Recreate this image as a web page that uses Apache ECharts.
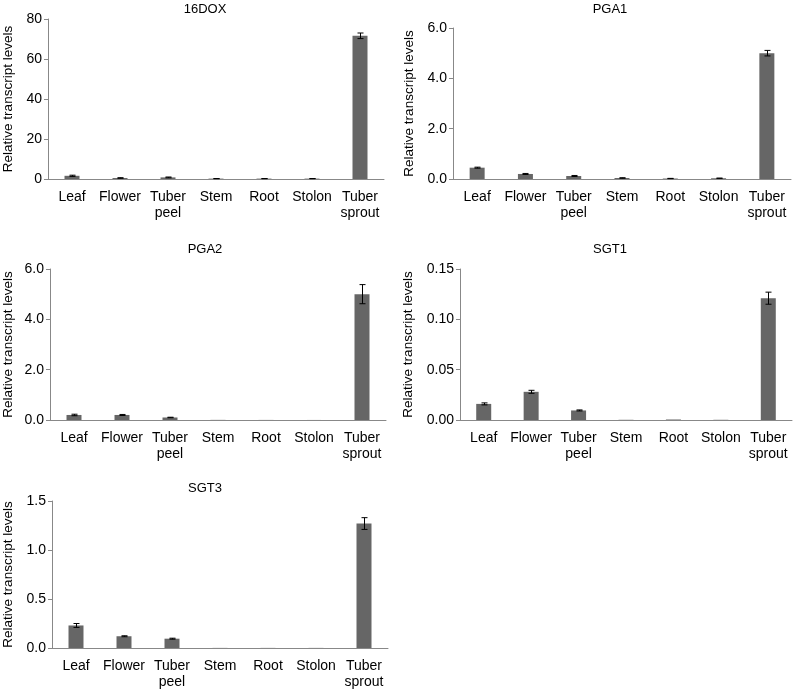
<!DOCTYPE html>
<html><head><meta charset="utf-8">
<script src="https://cdn.jsdelivr.net/npm/echarts@6/dist/echarts.min.js"></script>
<style>html,body{margin:0;padding:0;background:#fff}#c{width:793px;height:690px}</style>
</head><body><div id="c"></div>
<script>
var categories = ['Leaf','Flower','Tuber\npeel','Stem','Root','Stolon','Tuber\nsprout'];
var dox16 = [1.6, 0.5, 0.8, 0.2, 0.2, 0.2, 71.6];
var dox16Err = [0.3, 0.15, 0.2, 0.05, 0.05, 0.05, 1.4];
var pga1 = [0.45, 0.2, 0.12, 0.04, 0.02, 0.03, 5.0];
var pga1Err = [0.02, 0.02, 0.02, 0.01, 0.005, 0.005, 0.11];
var pga2 = [0.2, 0.2, 0.1, 0.005, 0.003, 0.002, 5.0];
var pga2Err = [0.03, 0.02, 0.01, 0, 0, 0, 0.38];
var sgt1 = [0.016, 0.028, 0.0095, 0.0002, 0.0005, 0.0002, 0.121];
var sgt1Err = [0.001, 0.0015, 0.0005, 0, 0, 0, 0.006];
var sgt3 = [0.23, 0.12, 0.095, 0.001, 0.001, 0.001, 1.27];
var sgt3Err = [0.02, 0.005, 0.005, 0, 0, 0, 0.06];
var titles = ['16DOX','PGA1','PGA2','SGT1','SGT3'];
var yMax = [80, 6, 6, 0.15, 1.5];
var yInterval = [20, 2, 2, 0.05, 0.5];
var yDecimals = [0, 1, 1, 2, 1];

var panels = [
  {vals: dox16, err: dox16Err},
  {vals: pga1, err: pga1Err},
  {vals: pga2, err: pga2Err},
  {vals: sgt1, err: sgt1Err},
  {vals: sgt3, err: sgt3Err}
];
var grids = [
  {left: 44, top: 19, width: 340, height: 160},
  {left: 453, top: 28, width: 338, height: 151},
  {left: 49, top: 269, width: 337, height: 151},
  {left: 460, top: 269, width: 332, height: 151},
  {left: 51, top: 501, width: 337, height: 150}
];
var nameGaps = [33, 37, 35, 45, 37];
var titlePos = [[205, 3], [610, 3], [205, 243], [610, 243], [205, 482]];

var FONT = 'Liberation Sans, Arial, sans-serif';
var option = {
  animation: false,
  title: [], grid: [], xAxis: [], yAxis: [], series: []
};
panels.forEach(function (p, i) {
  option.title.push({
    text: titles[i], left: titlePos[i][0], top: titlePos[i][1], textAlign: 'center', padding: 0,
    textStyle: {fontFamily: FONT, fontSize: 13, fontWeight: 'normal', color: '#000'}
  });
  option.grid.push(grids[i]);
  option.xAxis.push({
    type: 'category', gridIndex: i, data: categories,
    axisLine: {lineStyle: {color: '#888', width: 1}},
    axisTick: {show: false},
    axisLabel: {color: '#000', fontFamily: FONT, fontSize: 14, margin: 10, lineHeight: 16, interval: 0}
  });
  option.yAxis.push({
    type: 'value', gridIndex: i, min: 0, max: yMax[i], interval: yInterval[i],
    name: 'Relative transcript levels', nameLocation: 'middle', nameGap: nameGaps[i],
    nameTextStyle: {fontFamily: FONT, fontSize: 13.5, color: '#000'},
    axisLine: {show: true, lineStyle: {color: '#888', width: 1}},
    axisTick: {show: true, inside: false, length: 4, lineStyle: {color: '#888'}},
    splitLine: {show: false},
    axisLabel: {color: '#000', fontFamily: FONT, fontSize: 14, margin: 6,
      formatter: (function (d) { return function (v) { return v.toFixed(d); }; })(yDecimals[i])}
  });
  option.series.push({
    type: 'bar', xAxisIndex: i, yAxisIndex: i, data: p.vals, barWidth: 15,
    itemStyle: {color: '#666666'}, silent: true
  });
  var errData = p.vals.map(function (v, k) { return [k, v - p.err[k], v + p.err[k]]; });
  option.series.push({
    type: 'custom', xAxisIndex: i, yAxisIndex: i, data: errData, silent: true, z: 5,
    renderItem: function (params, api) {
      var e = api.value(2) - api.value(1);
      if (e <= 0) return null;
      var lo = api.coord([api.value(0), api.value(1)]);
      var hi = api.coord([api.value(0), api.value(2)]);
      var x = Math.round(lo[0]) + 0.5;
      var s = {stroke: '#000', lineWidth: 1};
      return {type: 'group', children: [
        {type: 'line', shape: {x1: x, y1: lo[1], x2: x, y2: hi[1]}, style: s},
        {type: 'line', shape: {x1: x - 3, y1: lo[1], x2: x + 3, y2: lo[1]}, style: s},
        {type: 'line', shape: {x1: x - 3, y1: hi[1], x2: x + 3, y2: hi[1]}, style: s}
      ]};
    }
  });
});
var chart = echarts.init(document.getElementById('c'), null, {renderer: 'canvas'});
chart.setOption(option);
</script>
</body></html>
